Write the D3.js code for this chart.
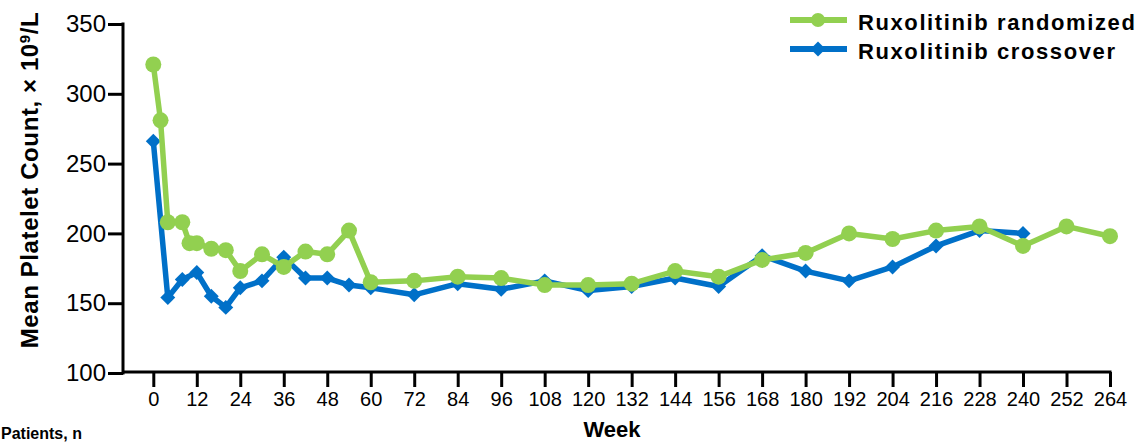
<!DOCTYPE html>
<html>
<head>
<meta charset="utf-8">
<script src="https://cdn.jsdelivr.net/npm/d3@7"></script>
<style>
  html, body { margin: 0; padding: 0; background: #fff; }
  svg { display: block; font-family: "Liberation Sans", Arial, sans-serif; }
</style>
</head>
<body>
<svg id="chart" width="1138" height="443"></svg>
<script>
// Mean platelet count by study week, two treatment groups
const weekTicks = [0, 12, 24, 36, 48, 60, 72, 84, 96, 108, 120, 132, 144, 156, 168, 180, 192, 204, 216, 228, 240, 252, 264];
const yTicks = [100, 150, 200, 250, 300, 350];

const randomizedWeeks = [0, 2, 4, 8, 10, 12, 16, 20, 24, 30, 36, 42, 48, 54, 60, 72, 84, 96, 108, 120, 132, 144, 156, 168, 180, 192, 204, 216, 228, 240, 252, 264];
const randomizedValues = [321, 281, 208, 208, 193, 193, 189, 188, 173, 185, 176, 187, 185, 202, 165, 166, 169, 168, 163, 163, 164, 173, 169, 181, 186, 200, 196, 202, 205, 191, 205, 198];

const crossoverWeeks = [0, 4, 8, 12, 16, 20, 24, 30, 36, 42, 48, 54, 60, 72, 84, 96, 108, 120, 132, 144, 156, 168, 180, 192, 204, 216, 228, 240];
const crossoverValues = [266, 154, 167, 172, 155, 147, 161, 166, 183, 168, 168, 163, 161, 156, 164, 160, 166, 159, 162, 168, 162, 184, 173, 166, 176, 191, 202, 200];

const seriesNames = ["Ruxolitinib randomized", "Ruxolitinib crossover"];
const GREEN = "#92d050";
const BLUE = "#0070c8";

const svg = d3.select("#chart");

const x = d3.scaleLinear().domain([0, 264]).range([153.3, 1110]);
const y = d3.scaleLinear().domain([100, 350]).range([373, 24]);

// y axis
const yAxis = svg.append("g")
  .attr("transform", "translate(123,0)")
  .call(d3.axisLeft(y).tickValues(yTicks).tickSize(15).tickSizeOuter(0).tickPadding(2));
yAxis.select(".domain").attr("stroke-width", 3).attr("d", `M0,${y(350) - 1.5}V${y(100) + 1.5}`);
yAxis.selectAll(".tick line").attr("stroke-width", 3);
yAxis.selectAll(".tick text").attr("font-size", 24).attr("fill", "#000");

// x axis
const xAxis = svg.append("g")
  .attr("transform", `translate(0,${y(100) - 1})`)
  .call(d3.axisBottom(x).tickValues(weekTicks).tickSize(15).tickSizeOuter(0).tickPadding(5));
xAxis.select(".domain").attr("stroke-width", 3).attr("d", `M${122},0H${x(264) + 1.5}`);
xAxis.selectAll(".tick line").attr("stroke-width", 3);
xAxis.selectAll(".tick text").attr("font-size", 20).attr("fill", "#000");

// axis titles
svg.append("text")
  .attr("x", 612).attr("y", 437)
  .attr("text-anchor", "middle")
  .attr("font-size", 22).attr("font-weight", "bold")
  .text("Week");

svg.append("text")
  .attr("transform", "translate(38,180) rotate(-90)")
  .attr("text-anchor", "middle")
  .attr("font-size", 24).attr("font-weight", "bold")
  .attr("letter-spacing", 0.6)
  .html('Mean Platelet Count, × 10<tspan baseline-shift="super" font-size="15">9</tspan>/L');

svg.append("text")
  .attr("x", 1).attr("y", 439)
  .attr("font-size", 16).attr("font-weight", "bold")
  .text("Patients, n");

// series
const line = d3.line().x(d => x(d[0])).y(d => y(d[1]));
const diamond = d3.symbol(d3.symbolSquare, 112);

const crossover = d3.zip(crossoverWeeks, crossoverValues);
const randomized = d3.zip(randomizedWeeks, randomizedValues);

svg.append("path").datum(crossover)
  .attr("d", line).attr("fill", "none")
  .attr("stroke", BLUE).attr("stroke-width", 5.5).attr("stroke-linejoin", "round");
svg.append("g").selectAll("path").data(crossover).join("path")
  .attr("d", diamond)
  .attr("transform", d => `translate(${x(d[0])},${y(d[1])}) rotate(45)`)
  .attr("fill", BLUE);

svg.append("path").datum(randomized)
  .attr("d", line).attr("fill", "none")
  .attr("stroke", GREEN).attr("stroke-width", 5.5).attr("stroke-linejoin", "round");
svg.append("g").selectAll("circle").data(randomized).join("circle")
  .attr("cx", d => x(d[0])).attr("cy", d => y(d[1])).attr("r", 8)
  .attr("fill", GREEN);

// legend
const legend = svg.append("g");
const legendRows = [
  { name: seriesNames[0], color: GREEN, y: 20, marker: "circle" },
  { name: seriesNames[1], color: BLUE, y: 49, marker: "diamond" }
];
legendRows.forEach(r => {
  legend.append("line")
    .attr("x1", 790).attr("x2", 847).attr("y1", r.y).attr("y2", r.y)
    .attr("stroke", r.color).attr("stroke-width", 6);
  if (r.marker === "circle") {
    legend.append("circle").attr("cx", 818).attr("cy", r.y).attr("r", 7).attr("fill", r.color);
  } else {
    legend.append("path").attr("d", diamond)
      .attr("transform", `translate(818,${r.y}) rotate(45)`).attr("fill", r.color);
  }
  legend.append("text")
    .attr("x", 858).attr("y", r.y + 10)
    .attr("font-size", 22).attr("font-weight", "bold")
    .attr("letter-spacing", 1.6)
    .text(r.name);
});
</script>
</body>
</html>
